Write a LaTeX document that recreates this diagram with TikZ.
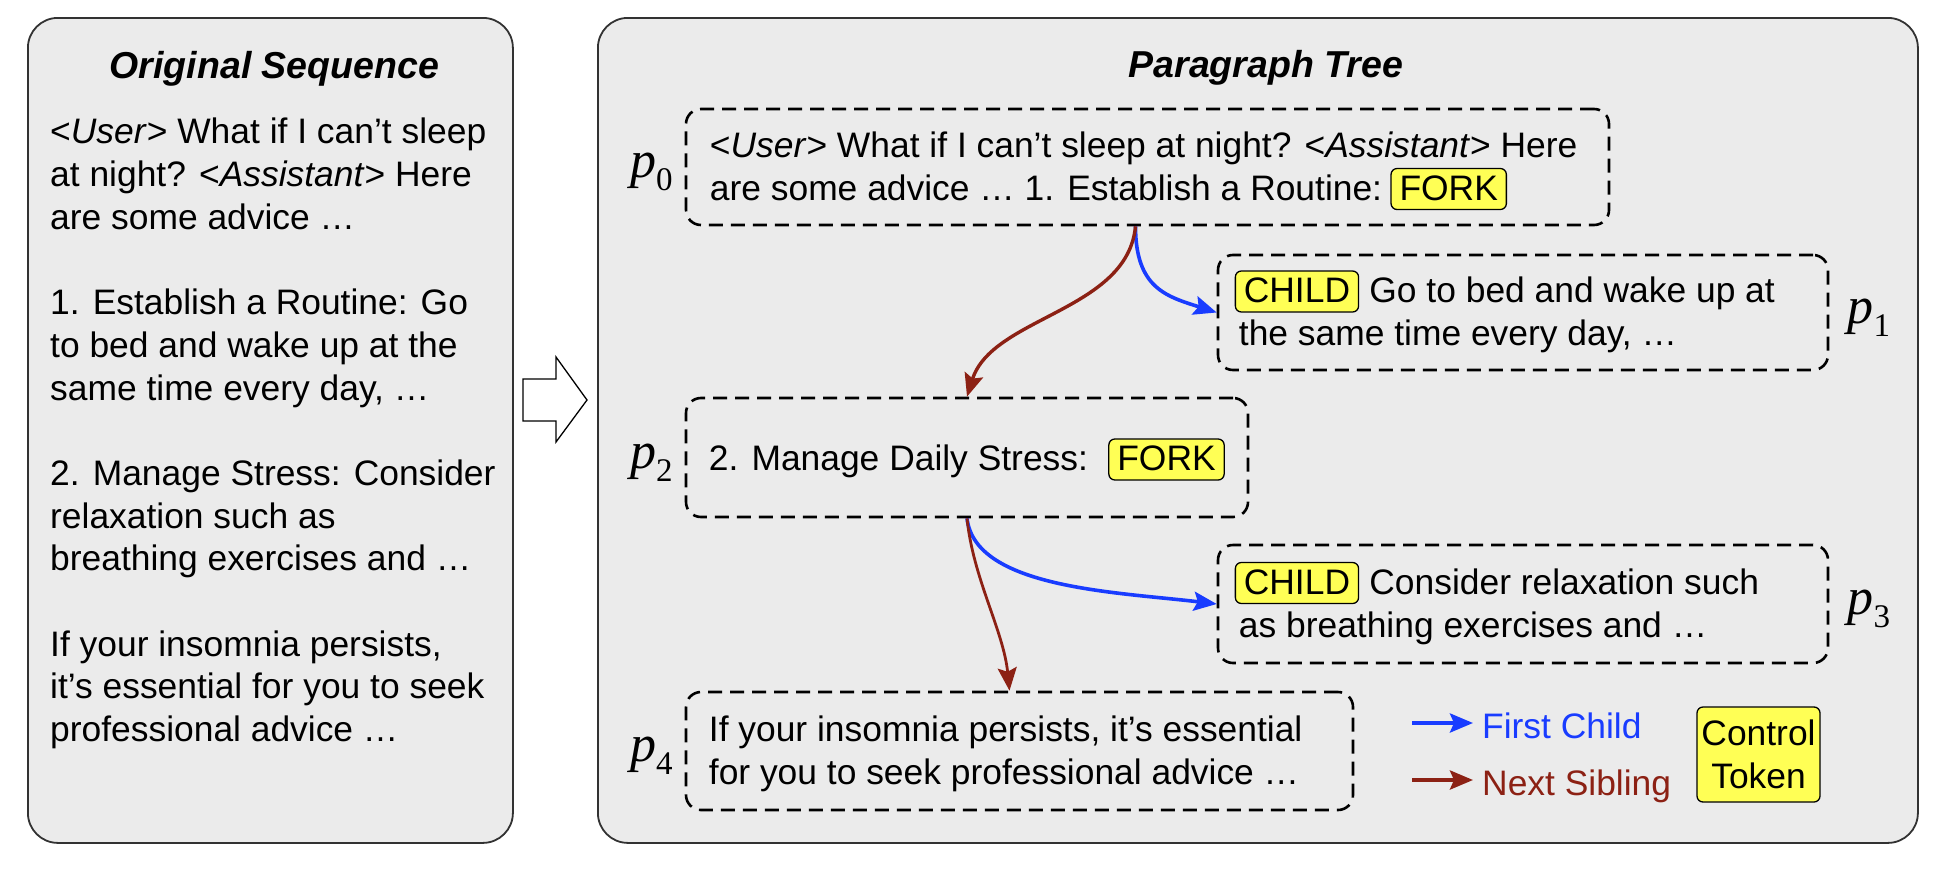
\documentclass[tikz,border=0pt]{standalone}
\usepackage{fontspec}
\setmainfont{Liberation Sans}
\newfontfamily\pfont{Liberation Serif}
\usepackage{tikz}
\usetikzlibrary{calc,positioning,arrows.meta}
\usepackage{xcolor}
\definecolor{panelgray}{RGB}{235,235,235}
\definecolor{panelline}{RGB}{50,50,50}
\definecolor{tokenyellow}{RGB}{255,255,85}
\definecolor{childblue}{RGB}{25,60,255}
\definecolor{siblingred}{RGB}{140,33,20}
\newcommand{\bodyfont}{\fontsize{35.4}{42.7}\selectfont}
\newcommand{\titlefont}{\fontsize{37.5}{43}\selectfont\bfseries\itshape}
\newcommand{\usr}{<\textit{User}>}
\newcommand{\asst}{<\textit{Assistant}>}
\newcommand{\pname}[1]{{\itshape p}\raisebox{-13pt}{\fontsize{33}{33}\selectfont #1}}
\tikzset{
  panel/.style={draw=panelline, line width=1.8pt, fill=panelgray,
    rounded corners=30pt, inner sep=0pt, anchor=north west},
  paragraph/.style={draw, line width=2.6pt, dash pattern=on 14pt off 8pt,
    rounded corners=15pt, inner sep=0pt},
  txt/.style={font=\bodyfont, inner sep=0pt, anchor=base west},
  tokenbox/.style={draw, line width=1.3pt, fill=tokenyellow, rounded corners=6pt},
  token/.style={tokenbox, font=\bodyfont, inner xsep=8.5pt, inner ysep=7.5pt,
    text height=24pt, text depth=2pt, anchor=base west},
  plab/.style={font=\pfont\fontsize{52}{52}\selectfont, inner sep=0pt, yshift=-5pt},
  firstchild/.style={-{Stealth[length=23pt,width=19pt,inset=4pt]},
    childblue, line width=3.6pt},
  nextsib/.style={-{Stealth[length=23pt,width=19pt,inset=4pt]},
    siblingred, line width=3.4pt}
}

\begin{document}
\begin{tikzpicture}[x=1pt,y=-1pt]
  \useasboundingbox (0,0) rectangle (1938,870);
  % the two panels
  \node[panel, minimum width=485pt, minimum height=825pt] (left) at (27,17) {};
  \node[panel, minimum width=1320pt, minimum height=825pt] (right) at (597,17) {};
  \draw[line width=1.3pt, fill=white] (523,379) -- (556,379) -- (556,357)
    -- (587,400) -- (556,442) -- (556,421) -- (523,421) -- cycle;

  % original sequence
  \node[font=\titlefont, inner sep=0pt, anchor=base] (ltitle)
    at ($(left.north)+(4,61)$) {Original Sequence};
  \node[txt, anchor=north west, align=left] (seq) at ($(left.north west)+(23,101)$) {
    \usr{} What if I can’t sleep\\
    at night? \asst{} Here\\
    are some advice …\\[42.7pt]
    1. Establish a Routine: Go\\
    to bed and wake up at the\\
    same time every day, …\\[42.7pt]
    2. Manage Stress: Consider\\
    relaxation such as\\
    breathing exercises and …\\[42.7pt]
    If your insomnia persists,\\
    it’s essential for you to seek\\
    professional advice …};

  % paragraph tree
  \node[font=\titlefont, inner sep=0pt, anchor=base] (rtitle)
    at ($(right.north)+(8,60)$) {Paragraph Tree};

  \node[paragraph, minimum width=923pt, minimum height=116pt] (P0) at (1147.5,167) {};
  \node[txt] (t0a) at ($(P0.west)+(25,-10)$) {\usr{} What if I can’t sleep at night? \asst{} Here};
  \node[txt] (t0b) at ($(t0a.base west)+(0,43)$) {are some advice … 1. Establish a Routine:};
  \node[token] (f0) at ($(t0b.base east)+(8,0)$) {FORK};

  \node[paragraph, minimum width=610pt, minimum height=115pt] (P1) at (1523,312.5) {};
  \node[token] (c1) at ($(P1.west)+(18,-10)$) {CHILD};
  \node[txt] (t1a) at ($(c1.base east)+(10,0)$) {Go to bed and wake up at};
  \node[txt] (t1b) at ($(P1.west)+(22,33)$) {the same time every day, …};

  \node[paragraph, minimum width=562pt, minimum height=119pt] (P2) at (967,457.5) {};
  \node[txt] (t2) at ($(P2.west)+(24,13)$) {2. Manage Daily Stress:};
  \node[token] (f2) at ($(t2.base east)+(20,0)$) {FORK};

  \node[paragraph, minimum width=610pt, minimum height=118pt] (P3) at (1523,604) {};
  \node[token] (c3) at ($(P3.west)+(18,-10)$) {CHILD};
  \node[txt] (t3a) at ($(c3.base east)+(10,0)$) {Consider relaxation such};
  \node[txt] (t3b) at ($(P3.west)+(22,33)$) {as breathing exercises and …};

  \node[paragraph, minimum width=667pt, minimum height=118pt] (P4) at (1019.5,751) {};
  \node[txt] (t4a) at ($(P4.west)+(24,-10)$) {If your insomnia persists, it’s essential};
  \node[txt] (t4b) at ($(P4.west)+(24,33)$) {for you to seek professional advice …};

  \node[plab, left=12pt of P0] (l0) {\pname{0}};
  \node[plab, right=18pt of P1] (l1) {\pname{1}};
  \node[plab, left=12pt of P2] (l2) {\pname{2}};
  \node[plab, right=18pt of P3] (l3) {\pname{3}};
  \node[plab, left=12pt of P4] (l4) {\pname{4}};

  % links
  \draw[firstchild] ([xshift=-12pt]P0.south) .. controls +(0,62) and +(-50,-16) .. (P1.west);
  \draw[nextsib] ([xshift=-12pt]P0.south) .. controls +(-8,85) and +(25,-80) .. (P2.north);
  \draw[firstchild] (P2.south) .. controls +(8,70) and +(-100,-12) .. (P3.west);
  \draw[nextsib, line width=2.8pt] (P2.south) .. controls +(6,60) and +(-6,-60) .. ([xshift=-10pt]P4.north);

  % legend
  \node[txt, text=childblue] (lfc) at (1482,738) {First Child};
  \node[txt, text=siblingred] (lns) at (1482,795) {Next Sibling};
  \coordinate (lc1) at (1412,723);
  \coordinate (lc2) at (1412,780);
  \draw[firstchild, line width=4pt, shorten >=9pt] (lc1) -- (lc1 -| lfc.west);
  \draw[nextsib, line width=4pt, shorten >=9pt] (lc2) -- (lc2 -| lns.west);
  \node[tokenbox, font=\bodyfont, align=center, minimum width=123pt,
    minimum height=95pt] (ctok) at (1758.5,754.5) {Control\\Token};
\end{tikzpicture}
\end{document}
